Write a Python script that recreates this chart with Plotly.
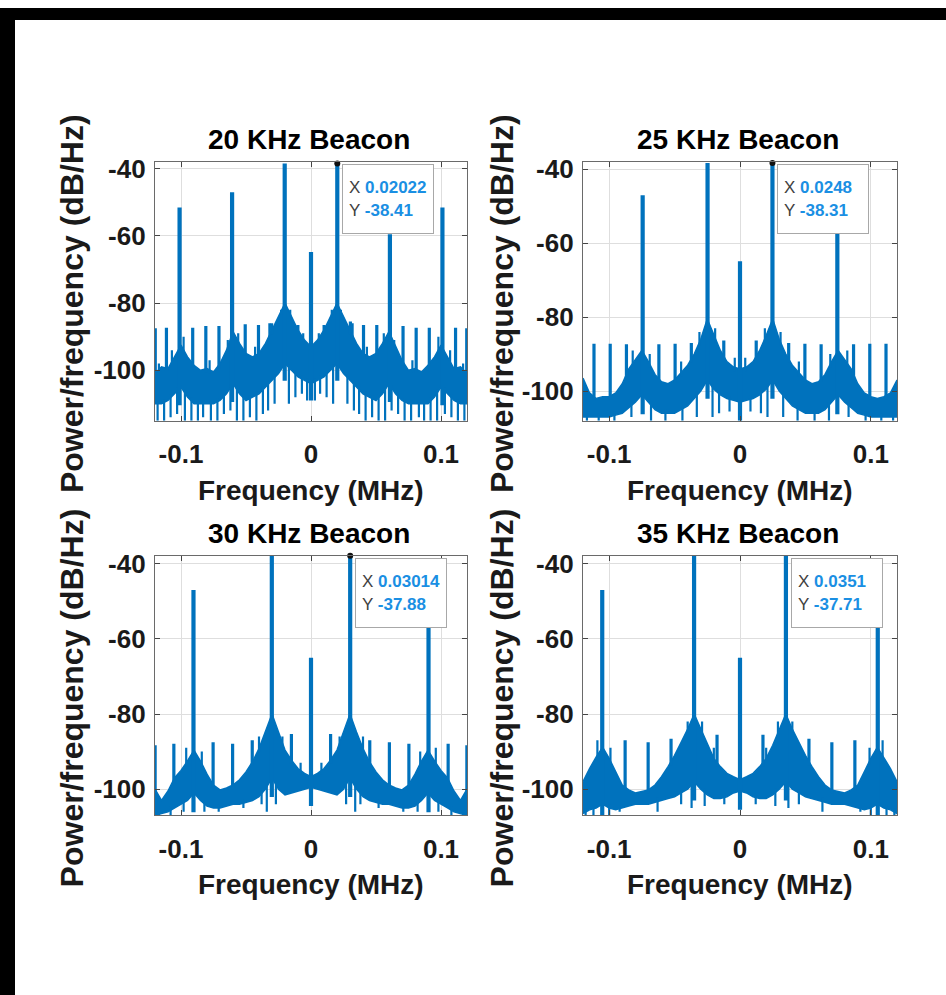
import numpy as np
import plotly.graph_objects as go

W, H = 946, 995
BLUE = "#0072BD"
TIP_BLUE = "#1a8fe3"
FONT = "Liberation Sans"

# ---------------- data ----------------
ENV_F = [-0.12, -0.115, -0.11, -0.105, -0.1, -0.095, -0.09, -0.085, -0.08, -0.075,
         -0.07, -0.065, -0.06, -0.055, -0.05, -0.045, -0.04, -0.035, -0.03, -0.025,
         -0.02, -0.015, -0.01, -0.005, 0.0, 0.005, 0.01, 0.015, 0.02, 0.025,
         0.03, 0.035, 0.04, 0.045, 0.05, 0.055, 0.06, 0.065, 0.07, 0.075,
         0.08, 0.085, 0.09, 0.095, 0.1, 0.105, 0.11, 0.115, 0.12]

TITLES = ["20 KHz Beacon", "25 KHz Beacon", "30 KHz Beacon", "35 KHz Beacon"]
TIP_X = [0.02022, 0.0248, 0.03014, 0.0351]
TIP_Y = [-38.41, -38.31, -37.88, -37.71]
TIP_XTXT = ["0.02022", "0.0248", "0.03014", "0.0351"]
TIP_YTXT = ["-38.41", "-38.31", "-37.88", "-37.71"]
Y_RANGES = [[-115, -37.9], [-108, -37.95], [-107, -37.8], [-107, -37.8]]

# noise floor envelopes (dB/Hz) on ENV_F
UP_20 = [-101, -99, -99.5, -96, -92.5, -96, -98.5, -100, -99.5, -100.5, -98, -94, -88.5, -92, -95, -96, -95, -92, -88, -84, -80, -84, -88, -91, -93,
         -91, -88, -84, -80, -84, -88, -92, -95, -96, -95, -92, -88.5, -93, -97, -100, -99.5, -100.5, -98.5, -96, -92.5, -96, -99.5, -99, -101]
LO_20 = [-110, -110, -109, -107, -105, -108, -110, -110, -110, -110, -109, -107, -104, -107, -109, -108, -107, -105, -103, -101, -98, -100, -102, -103, -104,
         -103, -102, -100, -98, -101, -103, -105, -107, -108, -109, -107, -104, -107, -109, -110, -110, -110, -110, -108, -105, -107, -109, -110, -110]
UP_25 = [-96.5, -100.5, -102, -101.5, -101.5, -100.5, -98, -94, -91.5, -89, -92, -95.5, -97.5, -98, -97, -95, -93, -90, -86, -80.5, -85, -89, -92, -93.5, -94,
         -93.5, -92, -89, -85, -80.5, -86, -90, -93, -95, -97, -98, -97.5, -95.5, -92, -89, -91.5, -94, -98, -100.5, -101.5, -102, -101.5, -100.5, -97]
LO_25 = [-107, -107, -107, -107, -107, -106.5, -106, -104.5, -103, -101, -103, -105, -106, -106, -106, -105, -104, -102, -100, -97, -99.5, -101, -102, -102.5, -103,
         -102.5, -102, -101, -99.5, -97, -100, -102, -104, -105, -106, -106, -106, -105, -103, -101, -103, -104.5, -106, -106.5, -107, -107, -107, -107, -107]
UP_30 = [-100, -103, -100.5, -97, -95, -92.5, -89.6, -92.5, -96, -98.9, -100.2, -99.7, -98.9, -97.5, -95.4, -92.7, -89.2, -84.8, -80, -84.8, -89.6, -92.3, -94.5, -95.8, -96.7,
         -95.8, -94.5, -92.3, -89.6, -84.8, -80, -84.8, -89.2, -92.7, -95.4, -97.5, -98.9, -99.7, -100.2, -98.9, -96, -92.5, -89.6, -92.5, -95, -97, -100.5, -103, -100]
LO_30 = [-107, -106.5, -106, -105, -104, -103, -101, -103, -104.5, -105, -105, -104.5, -104, -104, -103.5, -103, -102, -100, -97, -100, -101.5, -101, -100.5, -100, -99.5,
         -100, -100.5, -101, -101.5, -100, -97, -100, -102, -103, -103.5, -104, -104, -104.5, -105, -105, -104.5, -103, -101, -103, -104, -105, -106, -106.5, -107]
UP_35 = [-98, -94.5, -91.5, -88.8, -91.8, -95.4, -98.9, -100.2, -101, -100.6, -100.2, -98.9, -96.7, -94, -91, -87.5, -84, -80, -84, -88.3, -91.8, -94, -95.8, -96.7, -97.5,
         -96.7, -95.8, -94, -91.8, -88.3, -84, -80, -84, -87.5, -91, -94, -96.7, -98.9, -100.2, -100.6, -101, -100.2, -98.9, -95.4, -91.8, -88.8, -91.5, -94.5, -98]
LO_35 = [-106.5, -105.5, -105, -104, -105, -105.5, -105, -104.5, -104, -104, -104, -103.5, -103, -102.5, -102, -101, -100, -98, -100, -101.5, -102.5, -102.5, -102, -101, -100.5,
         -101, -102, -102.5, -102.5, -101.5, -100, -98, -100, -101, -102, -102.5, -103, -103.5, -104, -104, -104, -104.5, -105, -105.5, -105, -104, -105, -105.5, -106.5]

# tall spectral lines (beacon, carrier, mixing products)
BIG_F_20 = [-0.1011, -0.0607, -0.02022, 0.0, 0.02022, 0.0607, 0.1011]
BIG_DB_20 = [-51.5, -47, -38.4, -64.8, -38.41, -59.5, -51.5]
BIG_F_25 = [-0.0744, -0.0248, 0.0, 0.0248, 0.0744]
BIG_DB_25 = [-47, -38.3, -64.9, -38.31, -57.5]
BIG_F_30 = [-0.0904, -0.03014, 0.0, 0.03014, 0.0904]
BIG_DB_30 = [-47, -37.9, -65, -37.88, -56.6]
BIG_F_35 = [-0.1053, -0.0351, 0.0, 0.0351, 0.1053]
BIG_DB_35 = [-47, -37.7, -65, -37.71, -47.2]

# small spurs
SM_F_20 = [-0.1198, -0.1112, -0.091, -0.0809, -0.0708, -0.0506, -0.0404, -0.0303, -0.0101,
           0.0101, 0.0303, 0.0404, 0.0506, 0.0708, 0.0809, 0.091, 0.1112, 0.1198]
SM_DB_20 = [-87.5, -87.3, -87.3, -86.8, -86.8, -86.3, -86.5, -86, -86.5,
            -86.5, -85.5, -86.5, -86.5, -86.8, -87.3, -87.3, -87.3, -87.5]
SM_F_25 = [-0.1116, -0.0992, -0.0868, -0.062, -0.0496, -0.0372, -0.0124,
           0.0124, 0.0372, 0.0496, 0.062, 0.0868, 0.0992, 0.1116]
SM_DB_25 = [-87.2, -87.2, -87.3, -87.3, -87.2, -87, -86.3,
            -86.3, -87, -87.2, -87.3, -87.3, -87.2, -87.2]
SM_F_30 = [-0.1199, -0.1055, -0.0753, -0.0603, -0.0452, -0.01507,
           0.01507, 0.0452, 0.0603, 0.0753, 0.1055, 0.1199]
SM_DB_30 = [-88.3, -87.9, -87.5, -87.9, -87, -85.3,
            -85.3, -87, -87.5, -87.9, -87.9, -88.3]
SM_F_35 = [-0.0878, -0.0702, -0.0527, -0.01755, 0.01755, 0.0527, 0.0702, 0.0878]
SM_DB_35 = [-87, -87.5, -86.6, -85.5, -85.5, -86.6, -87.5, -87]

# noise streaks poking out of the floor (tip level in dB/Hz)
ST_F_20 = [-0.118, -0.113, -0.108, -0.103, -0.097, -0.092, -0.087, -0.083, -0.077, -0.072, -0.067, -0.062,
           -0.057, -0.052, -0.047, -0.042, -0.037, -0.033, -0.028, -0.017, -0.012, -0.007, -0.003,
           0.003, 0.007, 0.012, 0.017, 0.028, 0.033, 0.037, 0.042, 0.047, 0.052, 0.057, 0.062,
           0.067, 0.072, 0.077, 0.083, 0.087, 0.092, 0.097, 0.103, 0.108, 0.113, 0.118,
           -0.117, -0.107, -0.098, -0.078, -0.064, -0.056, -0.043, -0.032, -0.023, -0.016, -0.006,
           0.006, 0.016, 0.023, 0.032, 0.043, 0.056, 0.064, 0.078, 0.098, 0.107, 0.117]
ST_DB_20 = [-115, -115, -114, -113, -115, -115, -115, -114, -115, -115, -113, -112,
            -115, -115, -114, -115, -113, -112, -110, -110, -108, -107, -109,
            -109, -107, -108, -110, -110, -112, -113, -115, -114, -115, -115, -112,
            -113, -115, -115, -114, -115, -115, -115, -113, -114, -115, -115,
            -98, -94, -90, -97, -91, -89, -93, -86, -82, -82, -89,
            -89, -82, -82, -86, -93, -89, -91, -97, -90, -94, -98]
ST_F_25 = [-0.117, -0.108, -0.096, -0.083, -0.068, -0.057, -0.044, -0.033, -0.021, -0.016, -0.008,
           0.008, 0.016, 0.021, 0.033, 0.044, 0.057, 0.068, 0.083, 0.096, 0.108, 0.117,
           -0.082, -0.069, -0.045, -0.031, -0.019, -0.004, 0.004, 0.019, 0.031, 0.045, 0.069, 0.082]
ST_DB_25 = [-108, -108, -108, -107, -108, -108, -108, -107, -107, -106, -105.5,
            -105.5, -106, -107, -107, -108, -108, -108, -107, -108, -108, -108,
            -89, -90, -92, -84, -83, -91, -91, -83, -84, -92, -90, -89]
ST_F_30 = [-0.117, -0.108, -0.098, -0.082, -0.071, -0.052, -0.038, -0.034, -0.027,
           0.027, 0.034, 0.038, 0.052, 0.071, 0.082, 0.098, 0.108, 0.117,
           -0.096, -0.084, -0.04, -0.022, -0.008, 0.008, 0.022, 0.04, 0.084, 0.096]
ST_DB_30 = [-107, -107, -106, -106, -106, -105, -104, -106, -104,
            -104, -106, -104, -105, -106, -106, -106, -107, -107,
            -89, -90, -86, -86, -93, -93, -86, -86, -90, -89]
ST_F_35 = [-0.118, -0.112, -0.1, -0.092, -0.063, -0.045, -0.037, -0.027, -0.012,
           0.012, 0.027, 0.037, 0.045, 0.063, 0.092, 0.1, 0.112, 0.118,
           -0.109, -0.099, -0.04, -0.029, -0.02, 0.02, 0.029, 0.04, 0.099, 0.109]
ST_DB_35 = [-107, -107, -107, -106, -106, -104, -105, -104.5, -104,
            -104, -104.5, -105, -104, -106, -106, -107, -107, -107,
            -87, -89, -82, -82, -89, -89, -82, -82, -89, -87]

PANELS = [
    (UP_20, LO_20, BIG_F_20, BIG_DB_20, SM_F_20, SM_DB_20, ST_F_20, ST_DB_20),
    (UP_25, LO_25, BIG_F_25, BIG_DB_25, SM_F_25, SM_DB_25, ST_F_25, ST_DB_25),
    (UP_30, LO_30, BIG_F_30, BIG_DB_30, SM_F_30, SM_DB_30, ST_F_30, ST_DB_30),
    (UP_35, LO_35, BIG_F_35, BIG_DB_35, SM_F_35, SM_DB_35, ST_F_35, ST_DB_35),
]

X_TICKS = [-0.1, 0, 0.1]
X_TICKTEXT = ["-0.1", "0", "0.1"]
Y_TICKS = [-100, -80, -60, -40]
Y_TICKTEXT = ["-100", "-80", "-60", "-40"]

# ---------------- layout geometry (px) ----------------
BOXES = [(155, 467, 155, 416), (583, 897, 155, 416), (155, 467, 552, 814), (583, 897, 552, 814)]


def px2x(px):
    return px / W


def px2y(py):
    return 1 - py / H


fig = go.Figure()
layout = dict(width=W, height=H, margin=dict(l=0, r=0, t=0, b=0),
              paper_bgcolor="white", plot_bgcolor="white", showlegend=False)
annotations = []
shapes = []

for i, (up, lo, bf, bdb, sf, sdb, stf, stdb) in enumerate(PANELS):
    n = i + 1
    xn = "x" if n == 1 else f"x{n}"
    yn = "y" if n == 1 else f"y{n}"
    env_f = np.array(ENV_F)
    up_a = np.array(up, float)
    lo_a = np.array(lo, float)
    # noise band
    fig.add_trace(go.Scatter(x=list(env_f) + list(env_f[::-1]), y=list(up_a) + list(lo_a[::-1]),
                             fill="toself", fillcolor=BLUE, mode="lines",
                             line=dict(color=BLUE, width=1.5), xaxis=xn, yaxis=yn, hoverinfo="skip"))
    # noise streaks
    xs, ys = [], []
    for f, d in zip(stf, stdb):
        u = float(np.interp(f, env_f, up_a))
        l = float(np.interp(f, env_f, lo_a))
        base = l + 1 if d < l else u - 1
        xs += [f, f, None]
        ys += [base, d, None]
    fig.add_trace(go.Scatter(x=xs, y=ys, mode="lines", line=dict(color=BLUE, width=2.2),
                             xaxis=xn, yaxis=yn, hoverinfo="skip"))
    # small spurs
    xs, ys = [], []
    for f, d in zip(sf, sdb):
        xs += [f, f, None]
        ys += [float(np.interp(f, env_f, up_a)) - 1, d, None]
    fig.add_trace(go.Scatter(x=xs, y=ys, mode="lines", line=dict(color=BLUE, width=3.2),
                             xaxis=xn, yaxis=yn, hoverinfo="skip"))
    # tall lines
    xs, ys = [], []
    for f, d in zip(bf, bdb):
        xs += [f, f, None]
        ys += [float(np.interp(f, env_f, lo_a)) - 5, d, None]
    fig.add_trace(go.Scatter(x=xs, y=ys, mode="lines", line=dict(color=BLUE, width=4.2),
                             xaxis=xn, yaxis=yn, hoverinfo="skip"))
    # data tip marker
    fig.add_trace(go.Scatter(x=[TIP_X[i]], y=[TIP_Y[i]], mode="markers",
                             marker=dict(color="#111111", size=6), xaxis=xn, yaxis=yn,
                             hoverinfo="skip", cliponaxis=False))

    x0, x1, y0, y1 = BOXES[i]
    axcommon = dict(showline=True, linecolor="#6a6a6a", linewidth=1.2, mirror="ticks",
                    ticks="inside", ticklen=5, tickwidth=1, tickcolor="#444444",
                    showgrid=True, gridcolor="#dedede", gridwidth=1, zeroline=False,
                    tickfont=dict(family=FONT, size=26, color="#1a1a1a", weight="bold"))
    layout["xaxis" if n == 1 else f"xaxis{n}"] = dict(
        axcommon, domain=[px2x(x0), px2x(x1)], range=[-0.12, 0.12], anchor=yn,
        tickvals=X_TICKS, ticktext=X_TICKTEXT, ticklabelstandoff=10)
    layout["yaxis" if n == 1 else f"yaxis{n}"] = dict(
        axcommon, domain=[px2y(y1), px2y(y0)], range=Y_RANGES[i], anchor=xn,
        tickvals=Y_TICKS, ticktext=Y_TICKTEXT, ticklabelstandoff=3)

    cx = (x0 + x1) / 2
    # title
    annotations.append(dict(text=f"<b>{TITLES[i]}</b>", xref="paper", yref="paper",
                            x=px2x(cx - 2), y=px2y(y0 - 22), xanchor="center", yanchor="middle",
                            showarrow=False, font=dict(family=FONT, size=28, color="black")))
    # x label
    annotations.append(dict(text="<b>Frequency (MHz)</b>", xref="paper", yref="paper",
                            x=px2x(cx), y=px2y(y1 + 70), xanchor="center", yanchor="middle",
                            showarrow=False, font=dict(family=FONT, size=28, color="#1a1a1a")))
    # y label
    lx = 72 if i % 2 == 0 else 502
    annotations.append(dict(text="<b>Power/frequency (dB/Hz)</b>", xref="paper", yref="paper",
                            x=px2x(lx), y=px2y((y0 + y1) / 2 + 13), xanchor="center", yanchor="middle",
                            textangle=-90, showarrow=False,
                            font=dict(family=FONT, size=32, color="#1a1a1a")))
    # data tip box
    annotations.append(dict(
        text=(f"<span style='color:#404040'>X</span> <b><span style='color:{TIP_BLUE}'>{TIP_XTXT[i]}</span></b><br>"
              f"<span style='color:#404040'>Y</span> <b><span style='color:{TIP_BLUE}'>{TIP_YTXT[i]}</span></b>"),
        xref=xn, yref=yn, x=TIP_X[i], y=Y_RANGES[i][1], xanchor="left", yanchor="top",
        xshift=5, yshift=-2, showarrow=False, align="left", width=78, height=56,
        bgcolor="white", bordercolor="#a8a8a8", borderwidth=1, borderpad=6,
        font=dict(family=FONT, size=17, color="#404040")))

# black border strips (scan edge)
shapes.append(dict(type="rect", xref="paper", yref="paper", x0=0, x1=px2x(15), y0=0, y1=1,
                   fillcolor="black", line=dict(width=0), layer="above"))
shapes.append(dict(type="rect", xref="paper", yref="paper", x0=0, x1=1, y0=px2y(12), y1=1,
                   fillcolor="black", line=dict(width=0), layer="above"))

layout["annotations"] = annotations
layout["shapes"] = shapes
fig.update_layout(**layout)
fig.write_html(
    "out.html",
    config={"displayModeBar": False},
    post_script=("document.documentElement.style.margin='0';document.body.style.margin='0';"
                 "document.body.style.padding='0';document.body.style.overflow='hidden';"
                 "var g=document.getElementById('{plot_id}');g.style.position='absolute';"
                 "g.style.left='0px';g.style.top='0px';"))
